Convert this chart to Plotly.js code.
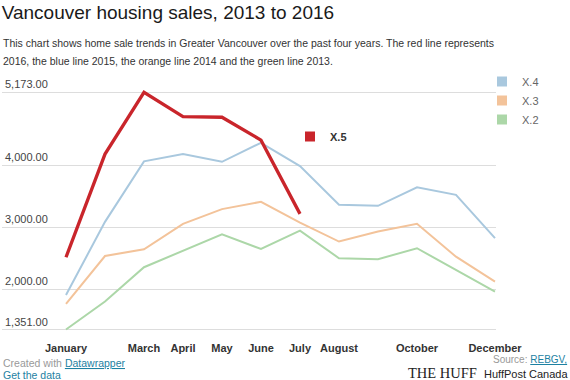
<!DOCTYPE html>
<html>
<head>
<meta charset="utf-8">
<script src="https://cdn.plot.ly/plotly-3.0.1.min.js"></script>
<style>html,body{margin:0;padding:0;background:#fff;}#chart{width:570px;height:380px;}</style>
</head>
<body>
<div id="chart"></div>
<script>
// ---- data ----
var months = ['January','February','March','April','May','June','July','August','September','October','November','December'];
var seriesNames = ['X.4','X.3','X.2','X.5'];
var sales2015 = [1908, 3085, 4060, 4177, 4053, 4359, 3984, 3360, 3343, 3643, 3520, 2823];
var sales2014 = [1764, 2535, 2643, 3053, 3290, 3408, 3074, 2768, 2929, 3053, 2524, 2122];
var sales2013 = [1351, 1801, 2354, 2616, 2885, 2648, 2943, 2499, 2483, 2660, 2310, 1961];
var sales2016 = [2515, 4177, 5173, 4781, 4771, 4402, 3214];
var yTicks = [1351, 2000, 3000, 4000, 5173];
var xTickMonths = ['January','March','April','May','June','July','August','October','December'];

// ---- geometry helpers (pixels -> paper) ----
var W = 570, H = 380;
var L = 2, R = 74, T = 70, B = 44;
var pw = W - L - R, ph = H - T - B;
function px(x){ return (x - L) / pw; }
function py(y){ return (H - B - y) / ph; }

var font = 'Liberation Sans, Arial, Helvetica, sans-serif';
var colBlue = '#a9c8de', colOrange = '#f3c39a', colGreen = '#acd7a8', colRed = '#c9252b';

var traces = [
  {x: months, y: sales2015, type:'scatter', mode:'lines', line:{color:colBlue, width:2}, showlegend:false, hoverinfo:'skip', cliponaxis:false},
  {x: months, y: sales2014, type:'scatter', mode:'lines', line:{color:colOrange, width:2}, showlegend:false, hoverinfo:'skip', cliponaxis:false},
  {x: months, y: sales2013, type:'scatter', mode:'lines', line:{color:colGreen, width:2}, showlegend:false, hoverinfo:'skip', cliponaxis:false},
  {x: months.slice(0, sales2016.length), y: sales2016, type:'scatter', mode:'lines', line:{color:colRed, width:3.3}, showlegend:false, hoverinfo:'skip', cliponaxis:false},
  // legend entries (square swatches)
  {x:[null], y:[null], type:'scatter', mode:'markers', name:seriesNames[0], marker:{symbol:'square', size:10, color:colBlue}, legend:'legend'},
  {x:[null], y:[null], type:'scatter', mode:'markers', name:seriesNames[1], marker:{symbol:'square', size:10, color:colOrange}, legend:'legend'},
  {x:[null], y:[null], type:'scatter', mode:'markers', name:seriesNames[2], marker:{symbol:'square', size:10, color:colGreen}, legend:'legend'},
  {x:[null], y:[null], type:'scatter', mode:'markers', name:'<b>' + seriesNames[3] + '</b>', marker:{symbol:'square', size:10, color:colRed}, legend:'legend2'}
];

var layout = {
  width: W, height: H,
  margin: {l:L, r:R, t:T, b:B, pad:0, autoexpand:false},
  paper_bgcolor:'#fff', plot_bgcolor:'#fff',
  font: {family: font, size: 11, color:'#333'},
  title: {
    text: 'Vancouver housing sales, 2013 to 2016',
    font: {family: font, size: 19, color:'#1a1a1a'},
    xref:'container', x: 0.003, xanchor:'left',
    yref:'container', y: 1 - 12/H, yanchor:'middle'
  },
  xaxis: {
    type:'category', categoryorder:'array', categoryarray: months,
    range: [-1.641, 11.026],
    tickmode:'array', tickvals: xTickMonths, ticktext: xTickMonths.map(function(m){return '<b>'+m+'</b>';}),
    tickangle: 0,
    showgrid:false, zeroline:false, showline:false, ticks:'',
    tickfont:{family:font, size:11, color:'#333'},
    ticklabelstandoff: 4,
    fixedrange:true
  },
  yaxis: {
    range: [1246, 5532],
    tickmode:'array', tickvals: yTicks,
    tickformat: ',.2f',
    showgrid:true, gridcolor:'#dddddd', gridwidth:1,
    zeroline:false, showline:false, ticks:'',
    ticklabelposition:'inside top',
    tickfont:{family:font, size:11, color:'#444'},
    fixedrange:true
  },
  legend: {
    xref:'container', yref:'container',
    x: 482/W, xanchor:'left', y: 1 - 67/H, yanchor:'top',
    font:{family:font, size:11, color:'#666'},
    bgcolor:'rgba(0,0,0,0)', borderwidth:0,
    itemwidth:30
  },
  legend2: {
    xref:'container', yref:'container',
    x: 290/W, xanchor:'left', y: 1 - 122/H, yanchor:'top',
    font:{family:font, size:11, color:'#333'},
    bgcolor:'rgba(0,0,0,0)', borderwidth:0,
    itemwidth:30
  },
  annotations: [
    {xref:'paper', yref:'paper', x: px(1), y: py(42.5), xanchor:'left', yanchor:'middle', showarrow:false, align:'left',
     text:'This chart shows home sale trends in Greater Vancouver over the past four years. The red line represents',
     font:{family:font, size:10.5, color:'#333'}},
    {xref:'paper', yref:'paper', x: px(1), y: py(61), xanchor:'left', yanchor:'middle', showarrow:false, align:'left',
     text:'2016, the blue line 2015, the orange line 2014 and the green line 2013.',
     font:{family:font, size:10.5, color:'#333'}},
    {xref:'paper', yref:'paper', x: px(1), y: py(363), xanchor:'left', yanchor:'middle', showarrow:false, align:'left',
     text:'<span style="color:#999">Created with </span><span style="color:#1d81a2"><u>Datawrapper</u></span>',
     font:{family:font, size:10.5, color:'#999'}},
    {xref:'paper', yref:'paper', x: px(1), y: py(374.5), xanchor:'left', yanchor:'middle', showarrow:false, align:'left',
     text:'<span style="color:#1d81a2"><u>Get the data</u></span>',
     font:{family:font, size:10.5, color:'#1d81a2'}},
    {xref:'paper', yref:'paper', x: px(491), y: py(359.5), xanchor:'left', yanchor:'middle', showarrow:false, align:'left',
     text:'<span style="color:#999">Source: </span><span style="color:#1d81a2"><u>REBGV,</u></span>',
     font:{family:font, size:10, color:'#999'}},
    {xref:'paper', yref:'paper', x: px(406), y: py(372.5), xanchor:'left', yanchor:'middle', showarrow:false, align:'left',
     text:'THE HUFF',
     font:{family:'Liberation Serif, Times New Roman, serif', size:14.5, color:'#222'}},
    {xref:'paper', yref:'paper', x: px(482), y: py(374), xanchor:'left', yanchor:'middle', showarrow:false, align:'left',
     text:'HuffPost Canada',
     font:{family:font, size:11, color:'#222'}}
  ]
};

Plotly.newPlot('chart', traces, layout, {staticPlot:true, displayModeBar:false});
</script>
</body>
</html>
